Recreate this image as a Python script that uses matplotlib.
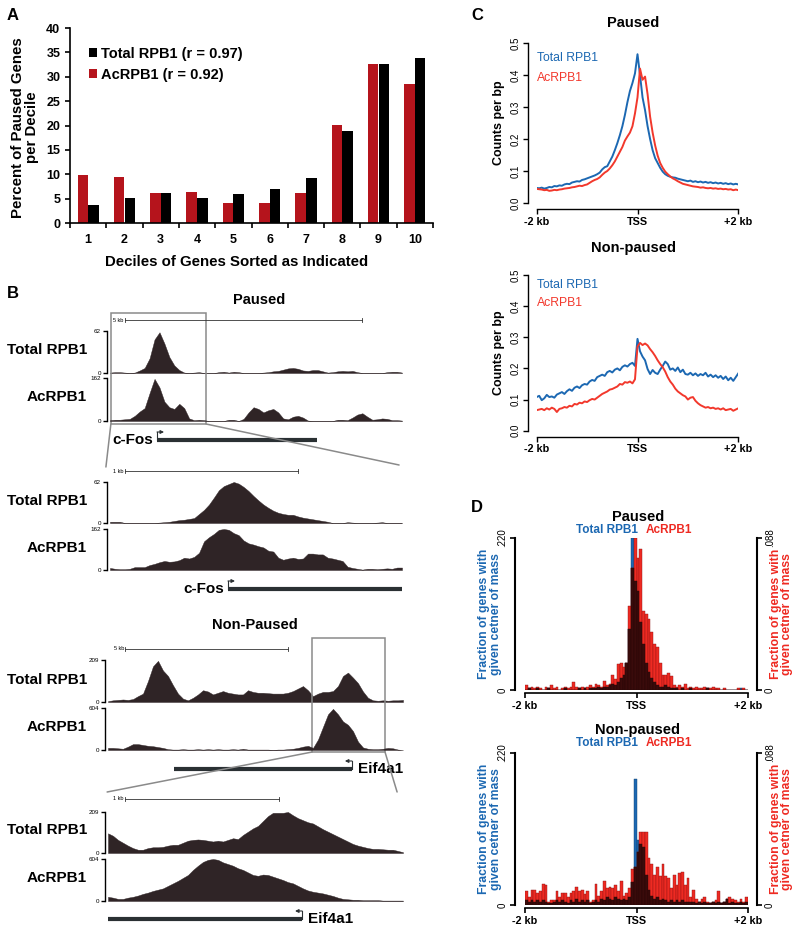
import numpy as np
import matplotlib
matplotlib.use('Agg')
import matplotlib.pyplot as plt
from matplotlib.lines import Line2D
from matplotlib.patches import Rectangle, ConnectionPatch
import matplotlib.transforms as mtrans

plt.rcParams['font.family'] = ['Liberation Sans', 'DejaVu Sans']

# ---------------- data ----------------
# Panel A
deciles = [1, 2, 3, 4, 5, 6, 7, 8, 9, 10]
ac_pct = [9.8, 9.5, 6.2, 6.3, 4.1, 4.1, 6.2, 20.2, 32.6, 28.5]
total_pct = [3.6, 5.2, 6.2, 5.1, 5.9, 6.9, 9.3, 18.8, 32.7, 33.8]
legend_a = ['Total RPB1 (r = 0.97)', 'AcRPB1 (r = 0.92)']

# Panel B browser tracks (fraction of track maximum, evenly spaced along the window)
trk_paused_total = [0.01, 0.02, 0.02, 0.01, 0.00, 0.01, 0.06, 0.12, 0.35, 0.80,
                    0.97, 0.70, 0.38, 0.18, 0.07, 0.01, 0.00, 0.01, 0.02, 0.00,
                    0.00, 0.00, 0.02, 0.03, 0.01, 0.03, 0.02, 0.00, 0.00, 0.00,
                    0.00, 0.01, 0.02, 0.04, 0.05, 0.08, 0.11, 0.12, 0.10, 0.06,
                    0.05, 0.07, 0.07, 0.04, 0.01, 0.02, 0.04, 0.05, 0.04, 0.05,
                    0.02, 0.00, 0.00, 0.00, 0.00, 0.00, 0.02, 0.03, 0.03, 0.01]
trk_paused_ac = [0.02, 0.03, 0.03, 0.04, 0.05, 0.12, 0.22, 0.30, 0.65, 0.98,
                 0.78, 0.45, 0.32, 0.28, 0.40, 0.30, 0.06, 0.02, 0.03, 0.02,
                 0.00, 0.00, 0.00, 0.00, 0.03, 0.03, 0.00, 0.05, 0.20, 0.32,
                 0.28, 0.20, 0.25, 0.28, 0.20, 0.06, 0.04, 0.10, 0.12, 0.08,
                 0.01, 0.00, 0.00, 0.00, 0.00, 0.00, 0.03, 0.03, 0.02, 0.08,
                 0.15, 0.18, 0.10, 0.03, 0.04, 0.06, 0.05, 0.02, 0.02, 0.01]
trk_pzoom_total = [0.03, 0.03, 0.03, 0.00, 0.00, 0.00, 0.00, 0.00, 0.00, 0.00,
                   0.01, 0.02, 0.03, 0.05, 0.07, 0.08, 0.10, 0.12, 0.22, 0.32,
                   0.45, 0.62, 0.80, 0.90, 0.95, 1.00, 0.96, 0.88, 0.78, 0.66,
                   0.55, 0.45, 0.37, 0.30, 0.25, 0.22, 0.20, 0.20, 0.16, 0.13,
                   0.11, 0.09, 0.07, 0.05, 0.03, 0.00, 0.00, 0.00, 0.02, 0.01,
                   0.00, 0.00, 0.00, 0.00, 0.01, 0.02, 0.00, 0.00, 0.00, 0.00]
trk_pzoom_ac = [0.05, 0.03, 0.02, 0.02, 0.03, 0.07, 0.07, 0.07, 0.12, 0.15,
                0.19, 0.22, 0.20, 0.21, 0.24, 0.30, 0.28, 0.32, 0.42, 0.70,
                0.80, 0.88, 0.98, 1.00, 0.98, 0.90, 0.85, 0.72, 0.65, 0.62,
                0.58, 0.55, 0.47, 0.45, 0.30, 0.25, 0.28, 0.30, 0.27, 0.28,
                0.40, 0.40, 0.38, 0.38, 0.30, 0.28, 0.25, 0.22, 0.08, 0.05,
                0.03, 0.01, 0.03, 0.03, 0.02, 0.03, 0.04, 0.03, 0.06, 0.06]
trk_np_total = [0.02, 0.04, 0.05, 0.06, 0.05, 0.07, 0.14, 0.20, 0.50, 0.85,
                0.98, 0.75, 0.62, 0.40, 0.20, 0.08, 0.04, 0.10, 0.18, 0.28,
                0.25, 0.18, 0.22, 0.26, 0.22, 0.20, 0.18, 0.18, 0.28, 0.24,
                0.22, 0.22, 0.21, 0.20, 0.20, 0.20, 0.22, 0.26, 0.32, 0.38,
                0.28, 0.14, 0.20, 0.24, 0.24, 0.26, 0.38, 0.62, 0.70, 0.58,
                0.45, 0.25, 0.10, 0.04, 0.03, 0.04, 0.03, 0.04, 0.04, 0.05]
trk_np_ac = [0.05, 0.05, 0.04, 0.03, 0.08, 0.14, 0.14, 0.12, 0.10, 0.09,
             0.07, 0.05, 0.02, 0.01, 0.01, 0.02, 0.01, 0.01, 0.02, 0.01,
             0.02, 0.01, 0.02, 0.01, 0.01, 0.02, 0.01, 0.03, 0.01, 0.01,
             0.01, 0.01, 0.01, 0.00, 0.01, 0.01, 0.02, 0.03, 0.05, 0.08,
             0.10, 0.05, 0.25, 0.55, 0.85, 0.98, 0.85, 0.68, 0.60, 0.45,
             0.20, 0.06, 0.03, 0.02, 0.02, 0.03, 0.05, 0.04, 0.01, 0.00]
trk_npzoom_total = [0.48, 0.42, 0.32, 0.25, 0.18, 0.12, 0.08, 0.08, 0.12, 0.14,
                    0.14, 0.15, 0.18, 0.20, 0.20, 0.25, 0.30, 0.32, 0.33, 0.32,
                    0.30, 0.28, 0.30, 0.28, 0.32, 0.36, 0.34, 0.44, 0.52, 0.60,
                    0.66, 0.78, 0.90, 0.98, 0.98, 0.98, 1.00, 0.92, 0.85, 0.80,
                    0.75, 0.72, 0.65, 0.58, 0.52, 0.46, 0.40, 0.34, 0.28, 0.22,
                    0.18, 0.15, 0.12, 0.10, 0.10, 0.09, 0.08, 0.08, 0.05, 0.02]
trk_npzoom_ac = [0.10, 0.08, 0.05, 0.05, 0.08, 0.10, 0.13, 0.17, 0.20, 0.24,
                 0.27, 0.30, 0.36, 0.42, 0.48, 0.55, 0.62, 0.74, 0.84, 0.93,
                 0.98, 1.00, 0.98, 0.92, 0.88, 0.84, 0.78, 0.74, 0.68, 0.62,
                 0.60, 0.63, 0.62, 0.58, 0.54, 0.50, 0.45, 0.42, 0.36, 0.30,
                 0.25, 0.22, 0.20, 0.18, 0.15, 0.12, 0.08, 0.05, 0.04, 0.03,
                 0.03, 0.02, 0.02, 0.02, 0.02, 0.01, 0.01, 0.01, 0.01, 0.01]
trk_max = {'paused': (62, 162), 'nonpaused': (209, 604)}
# gene models / scale bars / zoom windows (fraction of the browser window)
cfos_full = (0.161, 0.709)
cfos_zoom = (0.404, 1.0)
eif_full = (0.224, 0.827)
eif_zoom = (0.0, 0.658)
bar_p_full = (0.051, 0.863)
bar_p_zoom = (0.051, 0.644)
bar_np_full = (0.058, 0.610)
bar_np_zoom = (0.058, 0.580)
box_p = (0.003, 0.329)
box_np = (0.692, 0.939)

# Panel C metagene profiles (every 50 bp from -2 kb to +2 kb)
c_pos = np.arange(-2000, 2001, 50)
c_paused_total = [.047, .046, .048, .045, .047, .050, .049, .053, .052, .055,
                  .054, .058, .060, .059, .064, .066, .068, .067, .072, .074,
                  .077, .080, .083, .086, .090, .095, .105, .112, .115, .130,
                  .145, .165, .187, .212, .240, .275, .315, .350, .375, .405,
                  .465, .400, .330, .290, .240, .200, .165, .140, .125, .110,
                  .098, .090, .085, .082, .080, .079, .076, .074, .072, .070,
                  .068, .070, .066, .068, .065, .067, .064, .066, .063, .065,
                  .062, .064, .061, .063, .060, .062, .059, .061, .058, .060,
                  .058]
c_paused_ac = [.044, .043, .042, .040, .041, .038, .039, .041, .040, .042,
               .043, .045, .046, .047, .049, .050, .052, .054, .053, .056,
               .058, .063, .068, .072, .075, .080, .088, .095, .100, .108,
               .118, .130, .145, .160, .175, .195, .208, .220, .240, .280,
               .330, .420, .385, .395, .340, .270, .220, .180, .148, .125,
               .110, .098, .090, .083, .077, .073, .068, .064, .060, .058,
               .056, .054, .052, .051, .050, .048, .049, .047, .046, .047,
               .045, .046, .044, .045, .043, .044, .042, .043, .040, .042,
               .040]
c_np_total = [.108, .112, .098, .104, .115, .108, .110, .106, .116, .120,
              .124, .118, .127, .133, .128, .138, .142, .137, .146, .150,
              .148, .158, .163, .160, .172, .176, .180, .176, .188, .192,
              .187, .196, .200, .194, .205, .210, .206, .214, .218, .208,
              .295, .255, .238, .226, .198, .182, .195, .186, .182, .196,
              .208, .222, .214, .196, .200, .192, .203, .188, .196, .182,
              .180, .186, .178, .184, .176, .182, .178, .186, .174, .180,
              .172, .178, .170, .176, .166, .174, .162, .170, .160, .172,
              .184]
c_np_ac = [.066, .068, .070, .066, .072, .068, .074, .070, .060, .070,
           .072, .076, .074, .080, .078, .086, .084, .090, .088, .094,
           .092, .098, .102, .100, .106, .112, .118, .122, .126, .132,
           .134, .138, .142, .150, .148, .156, .154, .158, .152, .165,
           .270, .282, .275, .280, .274, .262, .252, .240, .226, .214,
           .204, .190, .172, .158, .148, .135, .126, .120, .114, .110,
           .100, .106, .108, .096, .088, .082, .078, .074, .076, .072,
           .074, .070, .072, .068, .072, .066, .068, .070, .064, .068,
           .072]

# Panel D center-of-mass histograms (50 bp bins; share of each axis maximum)
d_edges = np.arange(-2000, 2001, 50)
d_total_max, d_ac_max = 0.220, 0.088
d_paused_total = [0.00, 0.01, 0.00, 0.00, 0.01, 0.00, 0.00, 0.00, 0.01, 0.00,
                  0.00, 0.00, 0.00, 0.00, 0.01, 0.00, 0.00, 0.00, 0.00, 0.01,
                  0.00, 0.01, 0.00, 0.01, 0.01, 0.01, 0.02, 0.01, 0.02, 0.02,
                  0.03, 0.04, 0.03, 0.05, 0.08, 0.10, 0.18, 0.40, 1.00, 0.72,
                  0.65, 0.45, 0.30, 0.18, 0.12, 0.08, 0.05, 0.03, 0.02, 0.02,
                  0.03, 0.02, 0.01, 0.01, 0.01, 0.00, 0.01, 0.00, 0.00, 0.01,
                  0.00, 0.00, 0.00, 0.00, 0.00, 0.01, 0.00, 0.00, 0.00, 0.00,
                  0.00, 0.00, 0.00, 0.00, 0.00, 0.00, 0.00, 0.01, 0.00, 0.00]
d_paused_ac = [0.03, 0.01, 0.02, 0.01, 0.02, 0.01, 0.00, 0.02, 0.01, 0.03,
               0.01, 0.02, 0.00, 0.01, 0.02, 0.01, 0.02, 0.05, 0.02, 0.01,
               0.02, 0.01, 0.02, 0.03, 0.02, 0.04, 0.03, 0.02, 0.06, 0.03,
               0.04, 0.10, 0.07, 0.17, 0.18, 0.15, 0.18, 0.55, 0.80, 1.00,
               0.87, 0.93, 0.52, 0.50, 0.47, 0.38, 0.30, 0.28, 0.18, 0.10,
               0.10, 0.11, 0.09, 0.03, 0.02, 0.03, 0.02, 0.04, 0.01, 0.02,
               0.01, 0.02, 0.01, 0.01, 0.02, 0.01, 0.01, 0.02, 0.01, 0.01,
               0.00, 0.01, 0.00, 0.00, 0.00, 0.00, 0.01, 0.00, 0.01, 0.00]
d_np_total = [0.03, 0.02, 0.03, 0.02, 0.03, 0.02, 0.03, 0.02, 0.01, 0.01,
              0.02, 0.03, 0.02, 0.03, 0.02, 0.01, 0.03, 0.02, 0.04, 0.02,
              0.03, 0.02, 0.03, 0.01, 0.02, 0.03, 0.02, 0.04, 0.03, 0.05,
              0.04, 0.03, 0.05, 0.04, 0.03, 0.04, 0.03, 0.05, 0.15, 0.83,
              0.43, 0.40, 0.38, 0.20, 0.10, 0.06, 0.04, 0.05, 0.03, 0.04,
              0.03, 0.02, 0.03, 0.02, 0.03, 0.02, 0.03, 0.02, 0.02, 0.02,
              0.02, 0.01, 0.02, 0.01, 0.02, 0.01, 0.01, 0.02, 0.01, 0.02,
              0.01, 0.02, 0.04, 0.01, 0.02, 0.01, 0.01, 0.02, 0.01, 0.02]
d_np_ac = [0.09, 0.05, 0.10, 0.10, 0.08, 0.09, 0.14, 0.13, 0.02, 0.03,
           0.03, 0.09, 0.05, 0.08, 0.08, 0.05, 0.08, 0.09, 0.12, 0.09,
           0.10, 0.07, 0.09, 0.02, 0.03, 0.14, 0.06, 0.09, 0.16, 0.11,
           0.12, 0.11, 0.13, 0.09, 0.16, 0.06, 0.08, 0.11, 0.24, 0.25,
           0.35, 0.48, 0.48, 0.48, 0.31, 0.27, 0.20, 0.25, 0.19, 0.27,
           0.19, 0.18, 0.11, 0.20, 0.13, 0.21, 0.22, 0.13, 0.18, 0.05,
           0.10, 0.04, 0.02, 0.04, 0.05, 0.02, 0.01, 0.02, 0.03, 0.09,
           0.01, 0.02, 0.04, 0.05, 0.04, 0.03, 0.02, 0.04, 0.02, 0.05]

# ---------------- styling ----------------
W, H = 800, 935
fig = plt.figure(figsize=(W / 100, H / 100), dpi=100)
BLUE = '#1c68b2'
RED_C = '#f2382c'
RED_A = '#b5141c'
RED_D = '#ee2a22'
DARK = '#2f2426'
GENE_C = '#2a3033'
GRAY = '#8a8a8a'


def add_ax(x0, y0, x1, y1):
    return fig.add_axes([x0 / W, 1 - y1 / H, (x1 - x0) / W, (y1 - y0) / H])


def ftext(x, y, s, **kw):
    fig.text(x / W, 1 - y / H, s, **kw)


def fy(y):
    return 1 - y / H


# ---------------- panel labels ----------------
for lab, (x, y) in {'A': (13, 15), 'B': (13, 293), 'C': (477, 15), 'D': (477, 508)}.items():
    ftext(x, y, lab, fontsize=12, fontweight='bold', ha='center', va='center')

# ---------------- Panel A ----------------
axA = add_ax(70, 28, 433, 223)
xd = np.array(deciles, dtype=float)
b_ac = axA.bar(xd - 0.148, ac_pct, width=0.29, color=RED_A, lw=0)
b_tot = axA.bar(xd + 0.148, total_pct, width=0.29, color='black', lw=0)
axA.set_xlim(0.5, 10.5)
axA.set_ylim(0, 40)
axA.spines['top'].set_visible(False)
axA.spines['right'].set_visible(False)
for s in ['left', 'bottom']:
    axA.spines[s].set_linewidth(1.2)
axA.set_yticks(np.arange(0, 41, 5))
axA.set_yticklabels([str(v) for v in range(0, 41, 5)], fontsize=9, fontweight='bold')
axA.set_xticks(np.arange(0.5, 10.6, 1.0))
axA.set_xticklabels([])
axA.set_xticks(xd, minor=True)
axA.set_xticklabels([str(d) for d in deciles], minor=True, fontsize=9, fontweight='bold')
axA.tick_params(axis='x', which='minor', length=0, pad=8)
axA.tick_params(axis='both', which='major', length=3.5, width=1.2)
axA.set_ylabel('Percent of Paused Genes\nper Decile', fontsize=10.8, fontweight='bold',
               linespacing=1.0)
axA.yaxis.set_label_coords(-0.085, 0.49)
axA.legend([b_tot, b_ac], legend_a, loc='upper left', bbox_to_anchor=(0.052, 0.905),
           frameon=False, prop={'weight': 'bold', 'size': 10.5}, handlelength=0.55,
           handleheight=0.55, handletextpad=0.3, labelspacing=0.5, borderpad=0, borderaxespad=0)
ftext(237, 262, 'Deciles of Genes Sorted as Indicated', fontsize=10.8, fontweight='bold',
      ha='center', va='center')


# ---------------- Panel B ----------------
def track(x0, x1, ytop, ybot, vals, vmax):
    ax = add_ax(x0, ytop, x1, ybot)
    pos = np.linspace(0, 1, len(vals))
    ax.fill_between(pos, 0, np.asarray(vals) * vmax, color=DARK, lw=0.3)
    ax.plot([0, 1], [0, 0], color=DARK, lw=0.7)
    ax.set_xlim(0, 1)
    ax.set_ylim(0, vmax)
    for s in ['top', 'right', 'bottom']:
        ax.spines[s].set_visible(False)
    ax.spines['left'].set_position(('outward', 2.5))
    ax.spines['left'].set_linewidth(1.0)
    ax.set_xticks([])
    ax.set_yticks([0, vmax])
    ax.set_yticklabels(['0', str(vmax)])
    ax.tick_params(axis='y', length=3, width=1.0, labelsize=4.5, pad=1)
    ax.patch.set_visible(False)
    return ax


def blend(ax):
    return mtrans.blended_transform_factory(ax.transData, fig.transFigure)


def gene(ax, y_px, span, strand, label):
    tr = blend(ax)
    yf = fy(y_px)
    start, end = span
    ax.add_line(Line2D([start, end], [yf, yf], transform=tr, color=GENE_C, lw=3.0,
                       solid_capstyle='butt', clip_on=False))
    tss = start if strand == '+' else end
    d = 1 if strand == '+' else -1
    yh = yf + 8 / H
    ax.add_line(Line2D([tss, tss], [yf, yh], transform=tr, color=GENE_C, lw=0.8, clip_on=False))
    ax.annotate('', xy=(tss + d * 0.024, yh), xytext=(tss, yh), xycoords=tr, textcoords=tr,
                arrowprops=dict(arrowstyle='-|>', color=GENE_C, lw=0.8, mutation_scale=5,
                                shrinkA=0, shrinkB=0), annotation_clip=False)
    if strand == '+':
        ax.text(start - 0.013, yf, label, transform=tr, ha='right', va='center',
                fontsize=11, fontweight='bold')
    else:
        ax.text(end + 0.02, yf, label, transform=tr, ha='left', va='center',
                fontsize=11, fontweight='bold')


def scalebar(ax, y_px, span, label):
    tr = blend(ax)
    yf = fy(y_px)
    s, e = span
    ax.add_line(Line2D([s, e], [yf, yf], transform=tr, color='#333333', lw=0.6, clip_on=False))
    for xx in (s, e):
        ax.add_line(Line2D([xx, xx], [yf - 2 / H, yf + 2 / H], transform=tr, color='#333333',
                           lw=0.6, clip_on=False))
    ax.text(s - 0.004, yf, label, transform=tr, ha='right', va='center', fontsize=4)


def zoombox(ax, span, ytop, ybot):
    tr = blend(ax)
    r = Rectangle((span[0], fy(ybot)), span[1] - span[0], (ybot - ytop) / H, transform=tr,
                  fill=False, ec=GRAY, lw=1.1, clip_on=False)
    ax.add_patch(r)


def connect(axA_, xa, ya, axB_, xb, yb):
    cp = ConnectionPatch(xyA=(xa, fy(ya)), coordsA=blend(axA_), xyB=(xb, fy(yb)),
                         coordsB=blend(axB_), color=GRAY, lw=1.1)
    fig.add_artist(cp)


def rowlabel(y, s):
    ftext(87, y, s, fontsize=11, fontweight='bold', ha='right', va='center')


ftext(259, 300, 'Paused', fontsize=10.5, fontweight='bold', ha='center', va='center')
pmax_t, pmax_a = trk_max['paused']
t1 = track(110, 402, 331, 373, trk_paused_total, pmax_t)
t2 = track(110, 402, 378, 421, trk_paused_ac, pmax_a)
rowlabel(350, 'Total RPB1')
rowlabel(397, 'AcRPB1')
scalebar(t1, 320, bar_p_full, '5 kb')
zoombox(t1, box_p, 313, 424)
gene(t1, 440, cfos_full, '+', 'c-Fos')

t3 = track(110, 402, 482, 523, trk_pzoom_total, pmax_t)
t4 = track(110, 402, 529, 570, trk_pzoom_ac, pmax_a)
rowlabel(501, 'Total RPB1')
rowlabel(548, 'AcRPB1')
scalebar(t3, 471, bar_p_zoom, '1 kb')
gene(t3, 589, cfos_zoom, '+', 'c-Fos')
connect(t1, box_p[0], 424, t3, -0.014, 467)
connect(t1, box_p[1], 424, t3, 0.99, 465)

ftext(255, 625, 'Non-Paused', fontsize=10.5, fontweight='bold', ha='center', va='center')
nmax_t, nmax_a = trk_max['nonpaused']
t5 = track(108, 403, 660, 702, trk_np_total, nmax_t)
t6 = track(108, 403, 708, 750, trk_np_ac, nmax_a)
rowlabel(680, 'Total RPB1')
rowlabel(727, 'AcRPB1')
scalebar(t5, 649, bar_np_full, '5 kb')
zoombox(t5, box_np, 638, 752)
gene(t5, 769, eif_full, '-', 'Eif4a1')

t7 = track(108, 403, 812, 853, trk_npzoom_total, nmax_t)
t8 = track(108, 403, 859, 901, trk_npzoom_ac, nmax_a)
rowlabel(830, 'Total RPB1')
rowlabel(878, 'AcRPB1')
scalebar(t7, 799, bar_np_zoom, '1 kb')
gene(t7, 919, eif_zoom, '-', 'Eif4a1')
connect(t5, box_np[0], 752, t7, -0.003, 792)
connect(t5, box_np[1], 752, t7, 0.98, 792)


# ---------------- Panel C ----------------
def rot_ylabels(ax, ha='right'):
    for lbl in ax.get_yticklabels():
        lbl.set_rotation(90)
        lbl.set_va('center')
        lbl.set_ha(ha)


def profile(ytop, ybot, total, ac, title, title_y, leg_y):
    ax = add_ax(536.7, ytop, 738.3, ybot)
    ax.plot(c_pos, total, color=BLUE, lw=1.4)
    ax.plot(c_pos, ac, color=RED_C, lw=1.4)
    ax.set_xlim(-2000, 2000)
    ax.set_ylim(0, 0.5)
    ax.spines['top'].set_visible(False)
    ax.spines['right'].set_visible(False)
    ax.spines['left'].set_position(('outward', 6.3))
    ax.spines['bottom'].set_position(('outward', 4.3))
    for s in ['left', 'bottom']:
        ax.spines[s].set_linewidth(1.0)
    ax.set_yticks(np.arange(0, 0.51, 0.1))
    ax.set_yticklabels(['0.0', '0.1', '0.2', '0.3', '0.4', '0.5'], fontsize=7)
    rot_ylabels(ax)
    ax.set_xticks([-2000, 0, 2000])
    ax.set_xticklabels(['-2 kb', 'TSS', '+2 kb'], fontsize=7.8, fontweight='bold')
    ax.tick_params(length=3.5, width=1.0, pad=2)
    ax.set_ylabel('Counts per bp', fontsize=9, fontweight='bold')
    ax.yaxis.set_label_coords(-0.155, 0.5)
    ax.text(0.0, leg_y[0], 'Total RPB1', transform=ax.transAxes, color=BLUE, fontsize=8.8,
            ha='left', va='center')
    ax.text(0.0, leg_y[1], 'AcRPB1', transform=ax.transAxes, color=RED_C, fontsize=8.8,
            ha='left', va='center')
    ax.patch.set_visible(False)
    ftext(633, title_y, title, fontsize=10.5, fontweight='bold', ha='center', va='center')
    return ax


profile(43, 203, c_paused_total, c_paused_ac, 'Paused', 23, (0.906, 0.78))
profile(275, 430.7, c_np_total, c_np_ac, 'Non-paused', 248, (0.936, 0.82))


# ---------------- Panel D ----------------
def hist_panel(ytop, ybot, total_frac, ac_frac, title, title_y, leg_y):
    ax = add_ax(525, ytop, 748, ybot)
    centers = (d_edges[:-1] + d_edges[1:]) / 2
    tot = np.asarray(total_frac) * d_total_max
    ac = np.asarray(ac_frac) * d_ac_max
    ax.bar(centers, tot, width=50, color=BLUE, edgecolor='#123f6a', lw=0.3)
    ax.set_xlim(-2000, 2000)
    ax.set_ylim(0, d_total_max)
    ax2 = ax.twinx()
    ax2.set_ylim(0, d_ac_max)
    ax2.bar(centers, ac, width=50, color=RED_D, edgecolor='#8e1414', lw=0.3)
    overlap = np.minimum(ac, tot * d_ac_max / d_total_max)
    ax2.bar(centers, overlap, width=50, color='#3a0b0b', edgecolor='#240606', lw=0.3)
    for a in (ax, ax2):
        a.spines['top'].set_visible(False)
        a.spines['bottom'].set_position(('outward', 2.2))
        a.spines['bottom'].set_linewidth(1.2)
    ax.spines['right'].set_visible(False)
    ax2.spines['left'].set_visible(False)
    ax2.spines['bottom'].set_visible(False)
    ax.spines['left'].set_position(('outward', 7.2))
    ax2.spines['right'].set_position(('outward', 6.5))
    ax.spines['left'].set_linewidth(1.5)
    ax2.spines['right'].set_linewidth(1.5)
    ax.set_yticks([0, d_total_max])
    ax.set_yticklabels(['0', '.220'], fontsize=7)
    rot_ylabels(ax)
    ax2.set_yticks([0, d_ac_max])
    ax2.set_yticklabels(['0', '.088'], fontsize=7)
    rot_ylabels(ax2, ha='left')
    ax.set_xticks([-2000, 0, 2000])
    ax.set_xticklabels(['-2 kb', 'TSS', '+2 kb'], fontsize=7.8, fontweight='bold')
    ax.tick_params(length=3.5, width=1.2, pad=2)
    ax2.tick_params(length=3.5, width=1.2, pad=2)
    lab = 'Fraction of genes with\ngiven cetner of mass'
    ax.set_ylabel(lab, color=BLUE, fontsize=8.8, fontweight='bold', linespacing=0.95)
    ax.yaxis.set_label_coords(-0.105, 0.5)
    ax2.set_ylabel(lab, color=RED_D, fontsize=8.8, fontweight='bold', linespacing=0.95,
                   rotation=90, va='top')
    ax2.yaxis.set_label_coords(1.098, 0.5)
    ftext(638, title_y, title, fontsize=10.5, fontweight='bold', ha='center', va='center')
    ftext(638, leg_y, 'Total RPB1', fontsize=8.5, fontweight='bold', color=BLUE,
          ha='right', va='center')
    ftext(646, leg_y, 'AcRPB1', fontsize=8.5, fontweight='bold', color=RED_D,
          ha='left', va='center')
    return ax


hist_panel(538, 690, d_paused_total, d_paused_ac, 'Paused', 517, 530)
hist_panel(753, 905, d_np_total, d_np_ac, 'Non-paused', 730, 743)

fig.savefig('out.png', dpi=100)
